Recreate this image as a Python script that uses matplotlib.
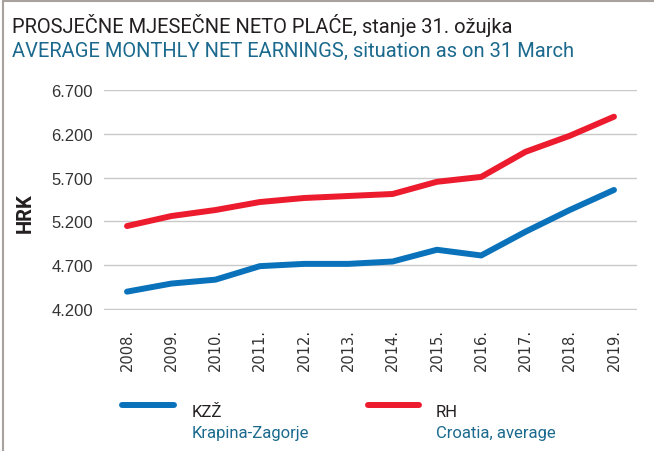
import matplotlib.pyplot as plt
from matplotlib.lines import Line2D

# podaci
godine = ['2008.', '2009.', '2010.', '2011.', '2012.', '2013.',
          '2014.', '2015.', '2016.', '2017.', '2018.', '2019.']
kzz = [4398, 4490, 4535, 4689, 4715, 4715, 4742, 4876, 4811, 5082, 5330, 5559]
rh = [5147, 5261, 5330, 5421, 5467, 5490, 5513, 5652, 5708, 5994, 6177, 6395]
y_ticks = [4200, 4700, 5200, 5700, 6200, 6700]
y_labels = ['4.200', '4.700', '5.200', '5.700', '6.200', '6.700']

plava = '#0a72ba'
crvena = '#ec1c2e'
tirkiz = '#1b6a8e'
font = ['Roboto', 'DejaVu Sans']

W, H = 654, 452
fig = plt.figure(figsize=(W / 100, H / 100), dpi=100)
ax = fig.add_axes([104 / W, 1 - 311.3 / H, 533 / W, 220.3 / H])

x = list(range(len(godine)))
ax.plot(x, kzz, color=plava, lw=4.3, solid_capstyle='round', clip_on=False, zorder=3)
ax.plot(x, rh, color=crvena, lw=4.3, solid_capstyle='round', clip_on=False, zorder=3)

ax.set_xlim(-0.52, 11.52)
ax.set_ylim(4185, 6700)
ax.set_yticks(y_ticks)
ax.set_yticklabels(y_labels, family='Liberation Sans', fontsize=12, color='#333333')
ax.set_xticks(x)
ax.set_xticklabels(godine, rotation=90, family='DejaVu Sans', fontsize=10.5, color='#333333')
ax.tick_params(length=0)
ax.tick_params(axis='y', pad=8)
ax.tick_params(axis='x', pad=13)
ax.grid(axis='y', color='#c9c9c9', lw=1)
ax.set_axisbelow(True)
for s in ax.spines.values():
    s.set_visible(False)

fig.text(25 / W, 1 - 213 / H, 'HRK', rotation=90, fontsize=14.5, fontweight='bold',
         family=font, ha='center', va='center', color='#231f20')

# naslov
t1 = fig.text(12 / W, 1 - 33 / H, 'PROSJEČNE MJESEČNE NETO PLAĆE', family=font,
              fontsize=14.5, color='#231f20', va='baseline')
t2 = fig.text(12 / W, 1 - 57 / H, 'AVERAGE MONTHLY NET EARNINGS', family=font,
              fontsize=14.5, color=tirkiz, va='baseline')
fig.canvas.draw()
r = fig.canvas.get_renderer()
bb1 = t1.get_window_extent(r)
bb2 = t2.get_window_extent(r)
fig.text(bb1.x1 / W, 1 - 33 / H, ', stanje 31. ožujka', family=font,
         fontsize=14.5, color='#231f20', va='baseline')
fig.text(bb2.x1 / W, 1 - 57 / H, ', situation as on 31 March', family=font,
         fontsize=14.5, color=tirkiz, va='baseline')

# legenda
fig.add_artist(Line2D([122 / W, 174 / W], [1 - 406 / H] * 2, color=plava, lw=4.3,
                      solid_capstyle='round'))
fig.add_artist(Line2D([368 / W, 419 / W], [1 - 406 / H] * 2, color=crvena, lw=4.3,
                      solid_capstyle='round'))
fig.text(192 / W, 1 - 417 / H, 'KZŽ', family=font, fontsize=12, color='#231f20', va='baseline')
fig.text(192 / W, 1 - 438 / H, 'Krapina-Zagorje', family=font, fontsize=12, color=tirkiz,
         va='baseline')
fig.text(436 / W, 1 - 417 / H, 'RH', family=font, fontsize=12, color='#231f20', va='baseline')
fig.text(436 / W, 1 - 438 / H, 'Croatia, average', family=font, fontsize=12, color=tirkiz,
         va='baseline')

# okvir
fig.add_artist(Line2D([3 / W, 3 / W], [0, 1 - 2 / H], color='#a8a29e', lw=1.5))
fig.add_artist(Line2D([3 / W, 1], [1 - 2 / H] * 2, color='#a8a29e', lw=1.5))

fig.savefig('out.png', dpi=100)
